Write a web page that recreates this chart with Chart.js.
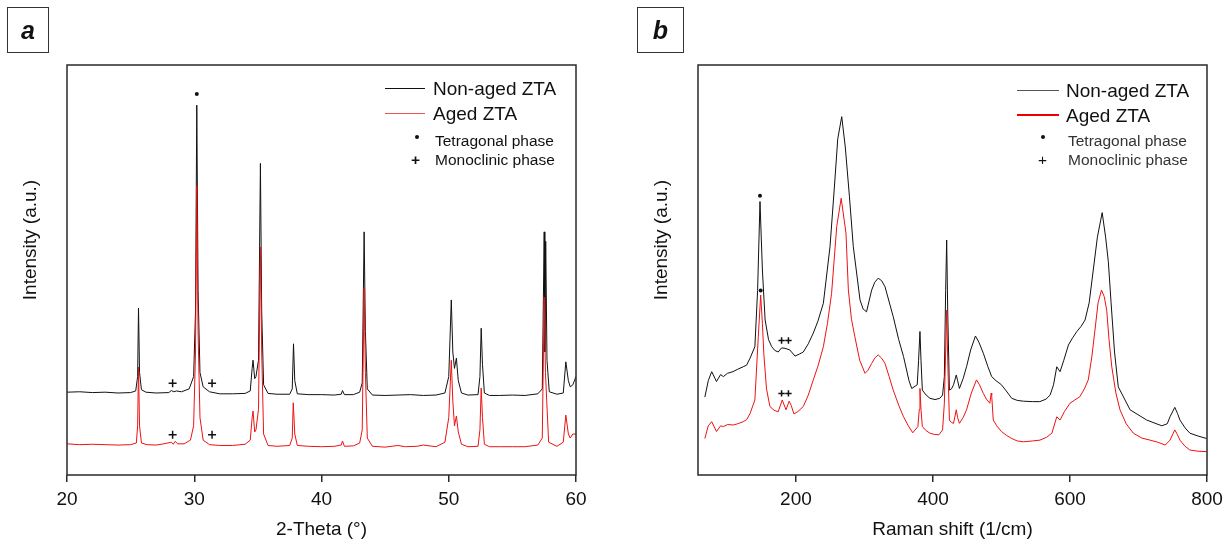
<!DOCTYPE html>
<html>
<head>
<meta charset="utf-8">
<script src="https://cdn.jsdelivr.net/npm/chart.js@4.4.0/dist/chart.umd.min.js"></script>
<style>
  body { margin: 0; background: #fff; font-family: "Liberation Sans", Arial, sans-serif; }
  #wrap { position: relative; width: 1231px; height: 550px; overflow: hidden; }
  canvas { position: absolute; top: 0; }
  .tag { position: absolute; top: 7px; height: 46px; box-sizing: border-box; border: 1.5px solid #333;
         font: italic bold 25px "Liberation Sans", Arial, sans-serif; color: #111;
         display: flex; align-items: center; justify-content: center; }
  .ytitle { position: absolute; font-size: 19px; color: #111; white-space: nowrap;
            transform: translate(-50%, -50%) rotate(-90deg); }
  .leg { position: absolute; white-space: nowrap; color: #111; transform: translateY(-50%); line-height: 1; }
  .big { font-size: 19px; }
  .small { font-size: 15.5px; }
  .swatch { position: absolute; }
  .dot { position: absolute; width: 4px; height: 4px; border-radius: 50%; background: #111; }
</style>
</head>
<body>
<div id="wrap">
  <canvas id="chartA" width="620" height="550" style="left:0"></canvas>
  <canvas id="chartB" width="611" height="550" style="left:620px"></canvas>

  <div class="tag" style="left:7px;width:42px">a</div>
  <div class="tag" style="left:637px;width:47px">b</div>

  <div class="ytitle" style="left:30px;top:240px">Intensity (a.u.)</div>
  <div class="ytitle" style="left:661px;top:240px">Intensity (a.u.)</div>

  <!-- legend, panel a -->
  <div class="swatch" style="left:385px;top:88px;width:40px;height:1px;background:#111"></div>
  <div class="leg big" style="left:433px;top:88px">Non-aged ZTA</div>
  <div class="swatch" style="left:385px;top:113px;width:40px;height:1px;background:#e55"></div>
  <div class="leg big" style="left:433px;top:113px">Aged ZTA</div>
  <div class="dot" style="left:415px;top:135px"></div>
  <div class="leg small" style="left:435px;top:141px">Tetragonal phase</div>
  <div class="leg small" style="left:411px;top:160px;font-weight:bold">+</div>
  <div class="leg small" style="left:435px;top:160px">Monoclinic phase</div>

  <!-- legend, panel b -->
  <div class="swatch" style="left:1017px;top:90px;width:42px;height:1px;background:#555"></div>
  <div class="leg big" style="left:1066px;top:90px">Non-aged ZTA</div>
  <div class="swatch" style="left:1017px;top:114px;width:42px;height:2px;background:#e00"></div>
  <div class="leg big" style="left:1066px;top:115px">Aged ZTA</div>
  <div class="dot" style="left:1041px;top:135px"></div>
  <div class="leg small" style="left:1068px;top:141px;color:#333">Tetragonal phase</div>
  <div class="leg small" style="left:1038px;top:160px">+</div>
  <div class="leg small" style="left:1068px;top:160px;color:#333">Monoclinic phase</div>
</div>

<script>
// ---- XRD (panel a), intensity in arbitrary units 0-100 ----
const xrdThetaNonAged = [20, 21, 22, 23, 24, 25, 25.4, 25.55, 25.62, 25.7, 25.85, 26.2, 27, 28, 28.2, 28.4, 28.6, 29, 29.6, 29.95, 30.1, 30.2, 30.3, 30.45, 30.7, 31.2, 32, 33, 34, 34.4, 34.55, 34.62, 34.75, 34.85, 35.05, 35.2, 35.3, 35.45, 35.8, 36.5, 37.5, 37.7, 37.8, 37.9, 38.1, 39, 40, 41, 41.55, 41.65, 41.8, 42.5, 43, 43.2, 43.35, 43.45, 43.6, 44, 45, 46, 47, 48, 49, 49.7, 50, 50.2, 50.32, 50.45, 50.6, 50.75, 51, 51.5, 52.3, 52.45, 52.55, 52.65, 52.8, 53.2, 54, 55, 56, 57, 57.35, 57.5, 57.55, 57.62, 57.72, 57.9, 58.5, 59, 59.2, 59.4, 59.55, 59.75, 60];
const xrdNonAged = [20.2, 20.3, 20.1, 20.2, 20.0, 20.1, 20.5, 24, 40.7, 25, 20.8, 20.2, 20.0, 20.1, 20.6, 20.3, 20.5, 20.3, 21, 24, 40, 90.2, 45, 25, 21.5, 20.3, 19.8, 19.8, 19.9, 20.5, 26, 28, 23.5, 24, 28, 76, 40, 22, 19.9, 19.7, 19.7, 21, 32, 23, 19.8, 19.6, 19.6, 19.5, 19.7, 20.6, 19.6, 19.6, 20.2, 22.5, 59.3, 35, 21, 19.5, 19.4, 19.5, 19.6, 19.4, 19.5, 20, 24, 42.7, 30, 26, 28.5, 23, 20, 19.5, 19.6, 24, 35.8, 27, 20, 19.4, 19.4, 19.5, 19.4, 19.8, 21, 59.3, 30, 57, 28, 20.3, 19.7, 20, 27.6, 23, 21.5, 22, 24];

const xrdThetaAged = [20, 21, 22, 23, 24, 25, 25.45, 25.55, 25.62, 25.7, 25.85, 26.3, 27, 27.6, 28.2, 28.35, 28.5, 28.7, 29.2, 29.7, 29.95, 30.1, 30.2, 30.3, 30.45, 30.7, 31.2, 32, 33, 34, 34.4, 34.55, 34.62, 34.75, 34.85, 35.05, 35.2, 35.3, 35.45, 35.8, 36.5, 37.5, 37.7, 37.78, 37.9, 38.1, 39, 40, 41, 41.55, 41.65, 41.8, 42.5, 43, 43.2, 43.35, 43.45, 43.6, 44, 45, 46, 46.6, 47.5, 48, 49, 49.7, 50, 50.2, 50.32, 50.45, 50.6, 50.75, 51, 51.5, 52.3, 52.45, 52.55, 52.65, 52.8, 53.2, 54, 55, 56, 57, 57.35, 57.5, 57.6, 57.7, 57.85, 58.5, 59, 59.2, 59.4, 59.55, 59.75, 60];
const xrdAged = [7.6, 7.4, 7.5, 7.4, 7.3, 7.4, 7.8, 12, 26.3, 12, 7.8, 7.4, 7.3, 7.6, 8.0, 7.5, 8.2, 7.6, 7.6, 8.5, 12, 30, 70.5, 35, 14, 8.5, 7.4, 7.2, 7.2, 7.5, 8.5, 14, 15.6, 10.5, 11, 16, 55.6, 30, 10, 7.2, 7.0, 7.2, 9, 17.6, 10, 7.2, 7.0, 6.9, 7.0, 7.3, 8.3, 7.0, 7.1, 7.8, 11, 45.6, 25, 9, 7.0, 6.8, 7.2, 6.9, 7.0, 7.3, 6.9, 8, 14, 28, 18, 12, 14.4, 10.5, 7.5, 6.9, 7.0, 11, 21.2, 14, 7.5, 6.9, 6.9, 6.9, 6.9, 7.3, 9, 43.4, 25, 18, 8, 7, 8, 14.6, 10, 9, 10, 10];

const xrdTetraTheta = [30.2];
const xrdTetraY = [92.9];
const xrdMonoTheta = [28.3, 31.4, 28.3, 31.4];
const xrdMonoY = [22.4, 22.4, 9.8, 9.8];
const xrdTicks = [20, 30, 40, 50, 60];

// ---- Raman (panel b) ----
const ramanShiftNonAged = [67, 72, 77, 84, 90, 94, 100, 108, 115, 123, 128, 133, 140, 144, 147.5, 151, 155, 160, 164.6, 169, 174, 179, 184, 191, 198.6, 205, 210.7, 218, 225.3, 232, 240, 249.7, 256, 261, 266.8, 272, 278, 283.7, 293.5, 298, 303, 310.5, 315, 320, 325, 330, 342, 350, 357, 365, 369, 377, 379, 381, 382.5, 384.5, 390, 395.7, 403, 410, 414, 416.6, 418.5, 420, 421.5, 424, 427, 430, 434, 436, 438.6, 444, 449, 455, 462, 467, 473.5, 480, 485.7, 492, 500, 507, 515, 523, 532, 545, 556, 565, 571, 576, 580.7, 585.5, 591, 597.7, 604, 610, 616, 622, 628, 634, 640, 647, 652, 656, 660, 665, 670.5, 687.7, 712, 734, 742, 746, 753, 757, 760.5, 768, 775, 787, 799.5];
const ramanNonAged = [19.0, 23, 25.2, 22.8, 24.5, 24, 24.8, 25.2, 25.8, 26.4, 26.8, 28.5, 31.3, 45, 66.7, 50, 37.8, 33, 31.3, 30.4, 30, 31, 30.9, 30.5, 29, 29.5, 30, 32, 34.6, 37.5, 41.9, 55.7, 70, 82, 87.4, 80, 68, 55.7, 42.7, 40.5, 39.8, 45.1, 47, 48, 47.4, 45.9, 38.6, 33, 28.9, 23, 21.1, 22, 28, 35, 28, 20.7, 19.5, 18.7, 18.4, 18.7, 19.5, 24, 45, 57.3, 40, 20.7, 21, 22, 24.4, 23, 21.1, 23.5, 26.4, 30.5, 33.9, 32.4, 29.7, 26.5, 24, 23, 22, 20.5, 18.7, 18.2, 18, 17.9, 17.9, 18.5, 19.5, 22, 26.4, 25.2, 28, 31.7, 33.5, 35, 36.2, 37.8, 42, 50, 58, 64, 58, 52, 42, 30, 21.5, 15.9, 13.4, 12, 12.5, 14.2, 16.5, 15, 13.4, 11.5, 10.2, 9.5, 8.9];

const ramanShiftAged = [67, 72, 77, 84, 90, 94, 100, 108.5, 115, 123, 128, 133, 140, 145, 148.5, 151, 153, 157, 162, 168, 174, 180, 185.5, 190, 193, 197, 203, 210.7, 218, 225.3, 232, 240, 246, 252, 259.5, 266, 273, 276.5, 281, 286, 293, 300.8, 305, 310.5, 315, 320, 325, 330, 336, 342, 350, 357, 364, 370.5, 378, 380, 381, 382.5, 384.5, 390, 395.7, 402, 408.6, 414, 416.6, 418.5, 420, 421.5, 424, 427, 430, 434, 436, 438.6, 444, 449, 456, 463.5, 468, 473.5, 478, 483, 485, 485.7, 488, 493, 500, 507, 515, 523, 532, 545, 556, 566, 573.6, 580.7, 585.5, 592, 600, 607, 614.5, 621, 626.7, 632, 636.5, 641, 646, 650, 653.6, 657, 661, 667, 673, 682, 692.5, 705, 717, 728, 739, 746, 753, 757, 760.5, 768, 775, 787, 799.5];
const ramanAged = [8.9, 12, 13, 10.6, 12, 11.8, 12.3, 12.2, 12.5, 13, 13.5, 15, 18.3, 33.7, 43.9, 37, 29.7, 21, 16.7, 15.8, 15.4, 18.3, 15.9, 18, 17, 14.9, 15.5, 16.7, 19.5, 23.2, 26.5, 31.3, 37, 44.3, 60.6, 67.5, 59, 45.1, 38, 33.7, 28, 24.8, 25.5, 27.2, 28.5, 29.3, 28.5, 27.2, 24, 20.7, 17, 14.2, 12, 10.3, 11.8, 16, 21.1, 16, 11.8, 10.8, 10.2, 9.9, 9.8, 11, 17.5, 30, 40.2, 28, 13.4, 12.8, 12.6, 15.9, 14, 12.6, 14, 15.9, 20, 23.2, 22, 19.9, 18.5, 17.5, 20, 19.5, 13.4, 12, 10.6, 9.7, 8.9, 8.3, 8.1, 8.3, 8.5, 9.2, 10.2, 14.2, 13.4, 15.5, 17.5, 18.3, 19.1, 21, 23.2, 29, 35.4, 42, 45.1, 43.5, 40.2, 33, 26.4, 20, 15.9, 12.5, 10.2, 9, 8.5, 8, 7.3, 8.5, 11, 9.8, 8.5, 7, 6.1, 5.8, 5.7];

const ramanTetraShift = [147.5, 148.5];
const ramanTetraY = [68.1, 45];
const ramanMonoShift = [179, 189, 179, 189];
const ramanMonoY = [32.8, 32.8, 19.9, 19.9];
const ramanTicks = [200, 400, 600, 800];

const FONT = '"Liberation Sans", Arial, sans-serif';

function pts(xs, ys) {
  return xs.map((x, i) => ({ x: x, y: ys[i] }));
}

var framePlugin = {
  id: 'frame',
  afterDatasetsDraw: function (chart) {
    var a = chart.chartArea, ctx = chart.ctx;
    ctx.save();
    ctx.strokeStyle = '#2a2a2a';
    ctx.lineWidth = 1.5;
    ctx.strokeRect(a.left, a.top, a.right - a.left, a.bottom - a.top);
    ctx.restore();
  }
};

var createChart = function (elementId, xMin, xMax, tickValues, xTitle, padRight, padLeft, traces, markers, crossSize) {
  var ctx = document.getElementById(elementId).getContext('2d');
  var datasets = [];
  traces.forEach(t => {
    datasets.push({
      data: pts(t.x, t.y),
      showLine: true,
      borderColor: t.color,
      borderWidth: 1,
      pointRadius: 0,
      tension: 0,
      order: t.order
    });
  });
  datasets.push({
    data: pts(markers.tx, markers.ty),
    pointStyle: 'circle',
    pointRadius: 2,
    backgroundColor: '#111',
    borderWidth: 0,
    order: 0
  });
  datasets.push({
    data: pts(markers.mx, markers.my),
    pointStyle: 'cross',
    pointRadius: crossSize,
    borderColor: '#111',
    borderWidth: 1.5,
    order: 0
  });

  return new Chart(ctx, {
    type: 'scatter',
    data: { datasets: datasets },
    options: {
      responsive: false,
      animation: false,
      layout: { padding: { left: padLeft, top: 65, right: padRight, bottom: 0 } },
      scales: {
        x: {
          type: 'linear',
          min: xMin,
          max: xMax,
          border: { display: false },
          grid: { drawOnChartArea: false, drawTicks: true, tickLength: 7, color: '#2a2a2a', lineWidth: 1.5 },
          ticks: { font: { family: FONT, size: 19 }, color: '#111', padding: 6, maxRotation: 0, autoSkip: false },
          title: { display: true, text: xTitle, font: { family: FONT, size: 19 }, color: '#111', padding: { top: 0, bottom: 9 } },
          afterBuildTicks: function (scale) {
            scale.ticks = tickValues.map(v => ({ value: v }));
          },
          afterFit: function (scale) { scale.height = 75; }
        },
        y: { display: false, min: 0, max: 100 }
      },
      plugins: {
        legend: { display: false },
        tooltip: { enabled: false }
      }
    },
    plugins: [framePlugin]
  });
};

createChart('chartA', 20, 60, xrdTicks, '2-Theta (°)', 44, 67,
  [
    { x: xrdThetaNonAged, y: xrdNonAged, color: '#111', order: 2 },
    { x: xrdThetaAged, y: xrdAged, color: '#ee1111', order: 1 }
  ],
  { tx: xrdTetraTheta, ty: xrdTetraY, mx: xrdMonoTheta, my: xrdMonoY }, 4);

createChart('chartB', 57, 800, ramanTicks, 'Raman shift (1/cm)', 24, 78,
  [
    { x: ramanShiftNonAged, y: ramanNonAged, color: '#111', order: 2 },
    { x: ramanShiftAged, y: ramanAged, color: '#ee1111', order: 1 }
  ],
  { tx: ramanTetraShift, ty: ramanTetraY, mx: ramanMonoShift, my: ramanMonoY }, 3.2);
</script>
</body>
</html>
